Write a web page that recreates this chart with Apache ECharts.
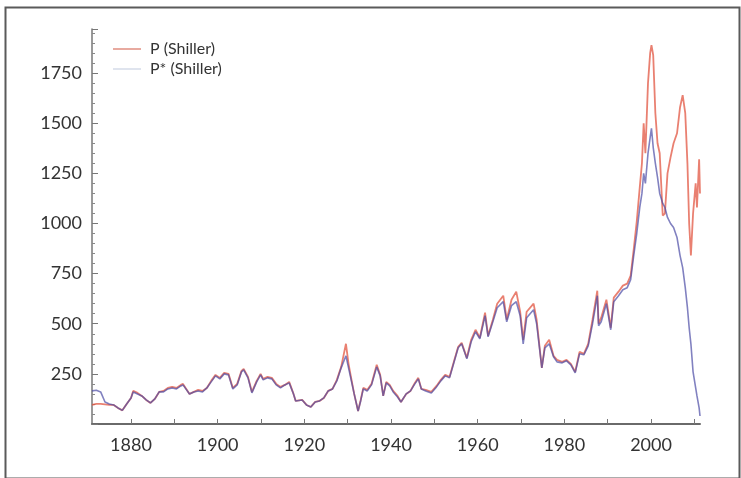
<!DOCTYPE html>
<html>
<head>
<meta charset="utf-8">
<script src="https://cdn.jsdelivr.net/npm/echarts@6/dist/echarts.min.js"></script>
<style>html,body{margin:0;padding:0;background:#fff}#c{width:741px;height:478px}</style>
</head>
<body>
<div id="c"></div>
<script>
const years = [1871.0,1872.0,1873.0,1874.0,1875.0,1876.0,1877.0,1878.0,1879.0,1880.0,1880.5,1881.5,1882.5,1883.5,1884.5,1885.5,1886.5,1887.5,1888.5,1889.5,1890.5,1891.5,1892.0,1893.5,1894.5,1895.5,1896.5,1897.5,1898.5,1899.5,1900.5,1901.5,1902.5,1903.5,1904.5,1905.5,1906.0,1907.0,1907.9,1909.0,1909.9,1910.5,1911.5,1912.5,1913.5,1914.5,1915.5,1916.5,1917.5,1918.0,1919.5,1920.5,1921.5,1922.5,1923.5,1924.5,1925.5,1926.5,1927.5,1928.5,1929.6,1930.2,1930.8,1931.5,1932.4,1933.0,1933.6,1934.5,1935.5,1936.7,1937.5,1938.2,1938.9,1939.7,1940.5,1941.5,1942.3,1943.5,1944.5,1945.5,1946.3,1947.0,1948.0,1949.3,1950.5,1951.5,1952.5,1953.5,1954.5,1955.5,1956.3,1957.5,1958.5,1959.5,1960.5,1961.7,1962.4,1963.5,1964.5,1965.9,1966.7,1967.8,1968.9,1969.8,1970.5,1971.3,1972.9,1973.6,1974.8,1975.5,1976.5,1977.5,1978.3,1979.5,1980.5,1981.5,1982.5,1983.5,1984.5,1985.5,1986.5,1987.6,1987.9,1988.5,1989.7,1990.7,1991.4,1992.5,1993.5,1994.5,1995.3,1996.0,1996.7,1997.4,1997.9,1998.3,1998.7,1999.3,1999.8,2000.1,2000.5,2001.0,2001.5,2002.0,2002.7,2003.2,2003.8,2004.5,2005.2,2006.0,2006.7,2007.3,2007.9,2008.4,2008.8,2009.2,2009.7,2010.3,2010.6,2011.1,2011.3];
const pShiller = [95,100,100,98,95,95,80,68,100,130,165,155,140,120,105,125,160,165,180,185,180,195,200,150,160,170,165,180,215,245,230,255,250,180,200,265,275,235,160,215,250,225,235,230,200,185,195,210,150,115,120,95,85,110,115,130,165,175,220,285,400,300,230,150,65,120,180,170,200,295,245,140,210,195,165,140,110,150,165,205,230,175,170,160,190,220,245,235,310,385,405,330,420,470,430,555,440,520,600,640,520,620,660,560,420,560,600,520,280,390,420,340,320,310,320,300,260,360,350,400,520,665,500,530,620,480,630,660,690,700,740,870,1010,1180,1300,1500,1350,1700,1850,1890,1840,1550,1400,1350,1040,1050,1250,1330,1400,1450,1580,1640,1550,1300,1000,840,1050,1200,1080,1320,1150];
const pStarShiller = [165,168,160,110,100,95,80,68,100,130,160,150,140,120,105,125,160,160,175,180,175,190,195,150,160,165,160,180,210,240,225,250,245,175,195,260,270,230,155,210,245,220,230,225,195,180,195,205,150,115,120,95,85,110,115,130,165,175,215,280,340,280,220,150,65,115,175,165,195,285,240,140,205,190,160,135,110,150,165,200,225,175,165,155,185,215,240,230,305,380,400,325,410,460,425,540,435,510,580,610,510,590,610,540,400,530,570,500,280,380,400,335,310,305,315,295,255,350,345,390,500,640,490,510,600,470,610,640,670,680,720,840,950,1080,1150,1250,1200,1350,1430,1475,1380,1300,1230,1150,1100,1080,1030,1000,980,930,840,780,680,580,480,400,260,180,140,80,40];
const xLabelValues = [1880,1900,1920,1940,1960,1980,2000];
const xTickValues = [1880,1890,1900,1910,1920,1930,1940,1950,1960,1970,1980,1990,2000,2010];
const seriesNames = ['P (Shiller)', 'P* (Shiller)'];

const pData = years.map((y, i) => [y, pShiller[i]]);
const psData = years.map((y, i) => [y, pStarShiller[i]]);

const chart = echarts.init(document.getElementById('c'), null, {renderer: 'canvas'});
const font = 'Lato, "Open Sans", sans-serif';
chart.setOption({
  animation: false,
  backgroundColor: '#fff',
  graphic: [{
    type: 'rect', left: 3, top: 5,
    shape: {width: 734, height: 471},
    style: {fill: 'none', stroke: '#5a5a5a', lineWidth: 2}
  }],
  grid: {left: 92, right: 41, top: 29, bottom: 54},
  legend: {
    orient: 'vertical', left: 108, top: 36,
    icon: 'rect', itemWidth: 28, itemHeight: 2, itemGap: 4,
    textStyle: {fontFamily: font, fontSize: 16, color: '#333', padding: [0, 0, 0, 4]},
    data: [
      {name: seriesNames[0], itemStyle: {color: '#e8aaa0'}},
      {name: seriesNames[1], itemStyle: {color: '#dfe4ee'}}
    ]
  },
  xAxis: {
    type: 'value', min: 1871, max: 2011.3,
    splitLine: {show: false},
    axisLine: {lineStyle: {color: '#6a6a6a', width: 2}},
    axisTick: {inside: true, length: 5, customValues: xTickValues, lineStyle: {color: '#777'}},
    axisLabel: {customValues: xLabelValues, formatter: v => String(v), fontFamily: font, fontSize: 18, color: '#333', margin: 12}
  },
  yAxis: {
    type: 'value', min: 0, max: 1970, interval: 250,
    splitLine: {show: false},
    axisLine: {show: true, lineStyle: {color: '#777', width: 1.5}},
    axisTick: {show: true, inside: true, length: 6, lineStyle: {color: '#777'}},
    minorTick: {show: true, splitNumber: 5, length: 3, lineStyle: {color: '#888'}},
    axisLabel: {showMinLabel: false, showMaxLabel: false, formatter: v => String(v), fontFamily: font, fontSize: 18, color: '#333', margin: 10}
  },
  series: [
    {name: seriesNames[0], type: 'line', data: pData, showSymbol: false, symbol: 'none',
     lineStyle: {color: 'rgba(225,85,65,0.75)', width: 1.8}, itemStyle: {color: '#e8aaa0'}},
    {name: seriesNames[1], type: 'line', data: psData, showSymbol: false, symbol: 'none',
     lineStyle: {color: 'rgba(75,75,165,0.7)', width: 1.6}, itemStyle: {color: '#dfe4ee'}}
  ]
});
</script>
</body>
</html>
